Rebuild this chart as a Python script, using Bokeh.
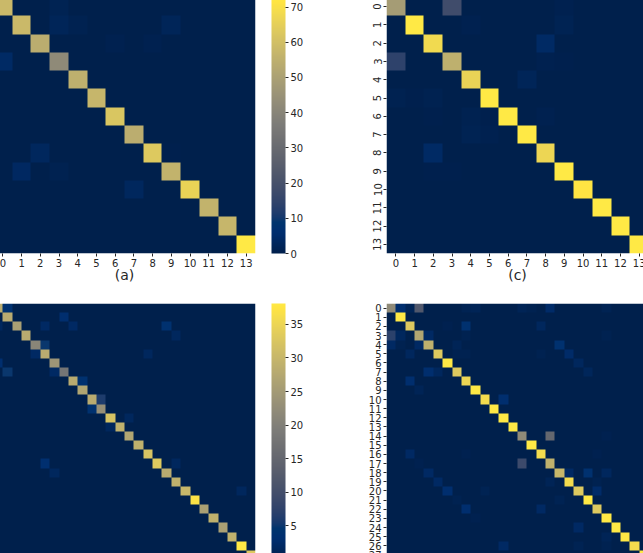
import numpy as np
from bokeh.plotting import figure
from bokeh.layouts import column, row
from bokeh.models import LinearColorMapper, ColorBar, FixedTicker
from bokeh.palettes import Cividis256
from bokeh.embed import file_html
from bokeh.resources import INLINE

diag_a = [58, 58, 54, 42, 55, 57, 62, 54, 63, 56, 66, 56, 57, 72.7]
off_a = [(0, 3, 1.3), (1, 3, 2), (1, 4, 1), (1, 9, 2.2), (2, 6, 0.7), (2, 8, 0.7), (3, 0, 4), (8, 2, 3),
         (8, 9, 0.5), (9, 1, 3.5), (9, 3, 1), (10, 7, 3)]

diag_c = [48, 72.7, 68, 55, 66, 72.7, 72.7, 72.7, 67, 72.7, 71, 72.7, 72.7, 72.7]
off_c = [(0, 3, 18), (3, 0, 14), (0, 9, 0.7), (1, 4, 0.7), (1, 9, 1.3), (2, 8, 4), (3, 8, 0.7), (3, 9, 0.5),
         (4, 7, 2), (5, 0, 1), (5, 1, 0.4), (5, 2, 1), (6, 2, 0.5), (6, 4, 1), (6, 5, 0.4),
         (6, 8, 0.7), (7, 4, 1.3), (7, 5, 0.7), (8, 2, 4), (9, 1, 0.2), (9, 2, 0.4), (9, 3, 0.4)]

diag_b = [28, 28, 26, 28, 21, 28, 24, 18, 28, 27, 28, 23, 32, 29, 27, 29, 32, 33, 28, 29, 30, 37,
          26, 29, 26, 29, 38, 33]
off_b = [(0, 1, 4), (1, 7, 3), (2, 0, 1.5), (2, 5, 2), (2, 8, 2), (2, 18, 4), (3, 19, 1.5), (4, 5, 5),
         (5, 4, 2), (5, 16, 1.5), (6, 0, 3), (7, 1, 5), (7, 6, 2), (8, 9, 4), (10, 11, 6), (11, 10, 4),
         (12, 14, 1.5), (13, 12, 1.5), (17, 5, 3.5), (17, 19, 1.5), (18, 6, 1.5), (20, 26, 1.5)]

diag_d = [22, 38, 33, 27, 29, 33, 38, 33, 35, 38, 36, 38, 38, 38, 22, 38, 36, 29, 30, 36, 33, 38,
          33, 38, 38, 38, 36, 38]
off_d = [(0, 1, 3), (0, 2, 1), (0, 3, 12), (0, 8, 0.7), (0, 9, 1), (0, 14, 1), (0, 15, 0.5), (0, 17, 2.5),
         (0, 23, 0.7), (2, 8, 4), (2, 16, 1.5), (2, 6, 0.4), (3, 0, 7), (3, 1, 1.5), (3, 4, 2), (3, 8, 0.5),
         (3, 23, 0.5), (4, 0, 2), (4, 1, 0.5), (4, 3, 2), (4, 7, 1), (4, 18, 4), (5, 2, 1.5), (5, 7, 0.5),
         (5, 8, 0.5), (5, 16, 0.5), (5, 19, 2.5), (6, 20, 1.5), (7, 4, 3), (7, 5, 1.5), (7, 21, 1.2),
         (8, 2, 3), (9, 3, 1), (10, 12, 3), (14, 17, 15), (14, 23, 0.3), (16, 2, 2), (16, 8, 0.3),
         (16, 22, 0.3), (17, 14, 9), (17, 3, 0.3), (18, 4, 2), (18, 19, 2), (18, 21, 4), (18, 23, 1.5),
         (19, 5, 2), (19, 17, 1), (19, 22, 0.5), (20, 6, 3), (20, 10, 0.7), (20, 22, 2.5), (21, 7, 0.5),
         (21, 18, 0.7), (22, 8, 3), (22, 16, 2), (24, 20, 2), (25, 23, 1), (26, 12, 2), (26, 20, 0.7),
         (26, 23, 0.5), (23, 9, 0.3)]

cbar_ticks_a = [0, 10, 20, 30, 40, 50, 60, 70]
cbar_ticks_b = [5, 10, 15, 20, 25, 30, 35]

INK = "#262626"


def matrix(diag, off):
    m = np.zeros((len(diag), len(diag)))
    for i, d in enumerate(diag):
        m[i, i] = d
    for r, c, v in off:
        m[r, c] = v
    return m


def panel(diag, off, vmax, width, height, border_left=0, border_right=0, border_bottom=0,
          x_ticks=False, y_ticks=False, y_vertical=False, letter=None, bar_ticks=None):
    n = len(diag)
    mapper = LinearColorMapper(palette=Cividis256, low=0, high=vmax)
    p = figure(width=width, height=height, frame_width=262, frame_height=256,
               x_range=(0, n), y_range=(n, 0), output_backend="svg", toolbar_location=None,
               min_border_left=border_left, min_border_right=border_right,
               min_border_top=0, min_border_bottom=border_bottom,
               outline_line_color=None, background_fill_color=None, border_fill_color=None)
    p.grid.visible = False
    p.image(image=[matrix(diag, off)], x=0, y=0, dw=n, dh=n, color_mapper=mapper)
    ticks = [i + 0.5 for i in range(n)]
    labels = {i + 0.5: str(i) for i in range(n)}
    for ax, on in ((p.xaxis[0], x_ticks), (p.yaxis[0], y_ticks)):
        ax.visible = on
        ax.ticker = FixedTicker(ticks=ticks)
        ax.major_label_overrides = labels
        ax.axis_line_color = None
        ax.major_tick_in = 0
        ax.major_tick_out = 3
        ax.minor_tick_line_color = None
        ax.major_tick_line_color = INK
        ax.major_label_text_color = INK
        ax.major_label_text_font = "DejaVu Sans"
        ax.major_label_text_font_size = "10px"
        ax.major_label_standoff = 2
    if y_vertical:
        p.yaxis[0].major_label_orientation = "vertical"
    if letter:
        ax = p.xaxis[0]
        ax.axis_label = letter
        ax.axis_label_standoff = -3
        ax.axis_label_text_font = "DejaVu Sans"
        ax.axis_label_text_font_size = "14px"
        ax.axis_label_text_font_style = "normal"
        ax.axis_label_text_color = INK
    if bar_ticks:
        cb = ColorBar(color_mapper=mapper, ticker=FixedTicker(ticks=bar_ticks), width=14, height=256,
                      location=(16, 0), margin=0, padding=0, bar_line_color=None,
                      major_tick_in=0, major_tick_out=3, major_tick_line_color=INK,
                      minor_tick_line_color=None, major_label_text_color=INK,
                      major_label_text_font="DejaVu Sans", major_label_text_font_size="10px",
                      label_standoff=2)
        p.add_layout(cb, "right")
    return p


a = panel(diag_a, off_a, 72.7, 357, 306, border_right=95, border_bottom=50, x_ticks=True,
          letter="(a)", bar_ticks=cbar_ticks_a)
c = panel(diag_c, off_c, 72.7, 298, 306, border_left=36, border_bottom=50, x_ticks=True, y_ticks=True,
          y_vertical=True, letter="(c)")
b = panel(diag_b, off_b, 38.1, 357, 256, border_right=95, bar_ticks=cbar_ticks_b)
d = panel(diag_d, off_d, 38.1, 298, 256, border_left=36, y_ticks=True)

page = column(row(a, c), row(b, d), margin=(-3, 0, 0, -7))
open("out.html", "w").write(file_html(page, INLINE))
